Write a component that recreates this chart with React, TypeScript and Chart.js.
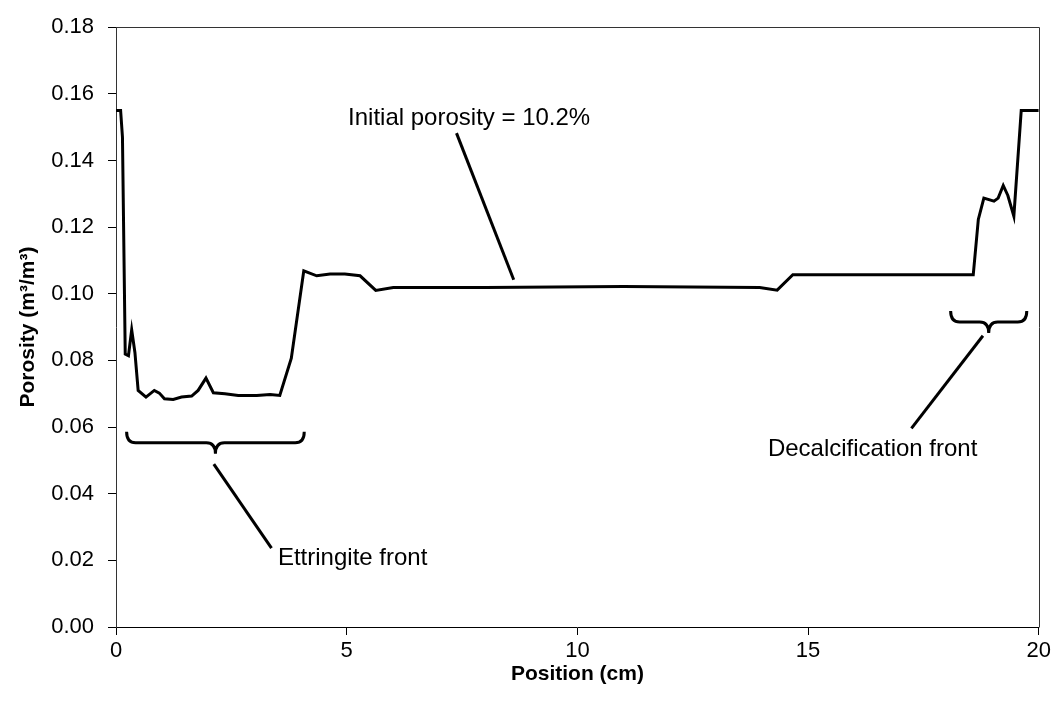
import React, { useEffect, useRef } from "react";
import { Chart, registerables } from "chart.js";

Chart.register(...registerables);

// Position along the specimen (cm)
const positions = [
  0, 0.1, 0.14, 0.2, 0.27, 0.34, 0.41, 0.48, 0.65, 0.83, 0.94, 1.05, 1.24, 1.42,
  1.64, 1.78, 1.95, 2.11, 2.36, 2.65, 3.05, 3.34, 3.55, 3.8, 4.07, 4.35, 4.64,
  4.96, 5.29, 5.63, 6.01, 8.0, 11.0, 13.95, 14.33, 14.67, 18.58, 18.69, 18.81,
  19.03, 19.12, 19.23, 19.33, 19.46, 19.62, 20,
];
// Porosity (m3/m3)
const porosity = [
  0.155, 0.155, 0.147, 0.0819, 0.0814, 0.0892, 0.0824, 0.071, 0.069, 0.071,
  0.0702, 0.0685, 0.0683, 0.069, 0.0693, 0.071, 0.0747, 0.0703, 0.07, 0.0695,
  0.0695, 0.0698, 0.0695, 0.0807, 0.1069, 0.1054, 0.1059, 0.1059, 0.1054, 0.101,
  0.1019, 0.1019, 0.1022, 0.1019, 0.1011, 0.1057, 0.1057, 0.1223, 0.1287, 0.1278,
  0.1287, 0.1325, 0.1295, 0.1233, 0.155, 0.155,
];

const xTickValues = [0, 5, 10, 15, 20];
const yTickValues = [0, 0.02, 0.04, 0.06, 0.08, 0.1, 0.12, 0.14, 0.16, 0.18];

const xAxisTitle = "Position (cm)";
const yAxisTitle = "Porosity (m³/m³)";

// Annotations (in data units)
const noteTexts = ["Initial porosity = 10.2%", "Ettringite front", "Decalcification front"];
const noteX = [5.03, 3.51, 14.13];
const noteY = [0.1506, 0.0187, 0.0512];
const leaderStartX = [7.38, 2.12, 18.79];
const leaderStartY = [0.1482, 0.0489, 0.0874];
const leaderEndX = [8.62, 3.37, 17.24];
const leaderEndY = [0.1042, 0.0237, 0.0596];
const braceStartX = [0.23, 18.09];
const braceEndX = [4.08, 19.74];
const braceTopY = [0.0586, 0.0948];

const FONT = 'Arial, "Liberation Sans", sans-serif';

const annotationPlugin = {
  id: "annotations",
  afterDatasetsDraw(chart: any) {
    const { ctx, chartArea, scales } = chart;
    const xs = scales.x;
    const ys = scales.y;
    ctx.save();
    // frame top & right
    ctx.strokeStyle = "#333";
    ctx.lineWidth = 1;
    ctx.beginPath();
    ctx.moveTo(Math.round(chartArea.left) + 0.5, Math.round(chartArea.top) + 0.5);
    ctx.lineTo(Math.round(chartArea.right) + 0.5, Math.round(chartArea.top) + 0.5);
    ctx.lineTo(Math.round(chartArea.right) + 0.5, Math.round(chartArea.bottom) + 0.5);
    ctx.stroke();

    ctx.strokeStyle = "#000";
    ctx.lineWidth = 3;
    ctx.lineCap = "butt";
    for (let i = 0; i < leaderStartX.length; i++) {
      ctx.beginPath();
      ctx.moveTo(xs.getPixelForValue(leaderStartX[i]), ys.getPixelForValue(leaderStartY[i]));
      ctx.lineTo(xs.getPixelForValue(leaderEndX[i]), ys.getPixelForValue(leaderEndY[i]));
      ctx.stroke();
    }
    for (let i = 0; i < braceStartX.length; i++) {
      const x1 = xs.getPixelForValue(braceStartX[i]);
      const x2 = xs.getPixelForValue(braceEndX[i]);
      const y0 = ys.getPixelForValue(braceTopY[i]);
      const xm = (x1 + x2) / 2;
      const h = 22;
      const mid = y0 + 11;
      const r = 9;
      ctx.beginPath();
      ctx.moveTo(x1, y0);
      ctx.quadraticCurveTo(x1, mid, x1 + r, mid);
      ctx.lineTo(xm - r, mid);
      ctx.quadraticCurveTo(xm, mid, xm, y0 + h);
      ctx.quadraticCurveTo(xm, mid, xm + r, mid);
      ctx.lineTo(x2 - r, mid);
      ctx.quadraticCurveTo(x2, mid, x2, y0);
      ctx.stroke();
    }
    ctx.fillStyle = "#000";
    ctx.font = "24px " + FONT;
    ctx.textAlign = "left";
    ctx.textBaseline = "alphabetic";
    for (let i = 0; i < noteTexts.length; i++) {
      ctx.fillText(noteTexts[i], xs.getPixelForValue(noteX[i]), ys.getPixelForValue(noteY[i]));
    }
    ctx.restore();
  },
};

export default function App() {
  const canvasRef = useRef<HTMLCanvasElement | null>(null);

  useEffect(() => {
    document.body.style.margin = "0";
    const canvas = canvasRef.current;
    if (!canvas) return;
    const chart = new Chart(canvas, {
      type: "scatter",
      data: {
        datasets: [
          {
            data: positions.map((p, i) => ({ x: p, y: porosity[i] })),
            showLine: true,
            borderColor: "#000",
            borderWidth: 3,
            pointRadius: 0,
            pointHoverRadius: 0,
            fill: false,
            tension: 0,
          },
        ],
      },
      options: {
        responsive: false,
        animation: false,
        events: [],
        layout: { padding: { left: 0, top: 22, right: 15, bottom: 0 } },
        plugins: {
          legend: { display: false },
          tooltip: { enabled: false },
          title: { display: false },
        },
        scales: {
          x: {
            type: "linear",
            min: 0,
            max: 20,
            afterBuildTicks: (scale: any) => {
              scale.ticks = xTickValues.map((v) => ({ value: v }));
            },
            afterFit: (scale: any) => {
              scale.height = 86;
            },
            ticks: {
              color: "#000",
              font: { size: 22, family: FONT },
              padding: 3,
              maxRotation: 0,
              callback: (v: any) => String(v),
            },
            grid: {
              display: true,
              drawOnChartArea: false,
              drawTicks: true,
              tickLength: 8,
              color: "#000",
            },
            border: { display: true, color: "#000", width: 1 },
            title: {
              display: true,
              text: xAxisTitle,
              color: "#000",
              font: { size: 21, weight: "bold", family: FONT },
              padding: { top: 0, bottom: 26 },
            },
          },
          y: {
            type: "linear",
            min: 0,
            max: 0.18,
            afterBuildTicks: (scale: any) => {
              scale.ticks = yTickValues.map((v) => ({ value: v }));
            },
            afterFit: (scale: any) => {
              scale.width = 116;
            },
            ticks: {
              color: "#000",
              font: { size: 22, family: FONT },
              padding: 14,
              callback: (v: any) => Number(v).toFixed(2),
            },
            grid: {
              display: true,
              drawOnChartArea: false,
              drawTicks: true,
              tickLength: 8,
              color: "#000",
            },
            border: { display: true, color: "#333", width: 1 },
            title: {
              display: true,
              text: yAxisTitle,
              color: "#000",
              font: { size: 21, weight: "bold", family: FONT },
              padding: { top: 16, bottom: 0 },
            },
          },
        },
      },
      plugins: [annotationPlugin],
    });
    return () => chart.destroy();
  }, []);

  return (
    <div style={{ width: 1054, height: 713, background: "#fff" }}>
      <canvas ref={canvasRef} width={1054} height={713} style={{ display: "block" }} />
    </div>
  );
}
